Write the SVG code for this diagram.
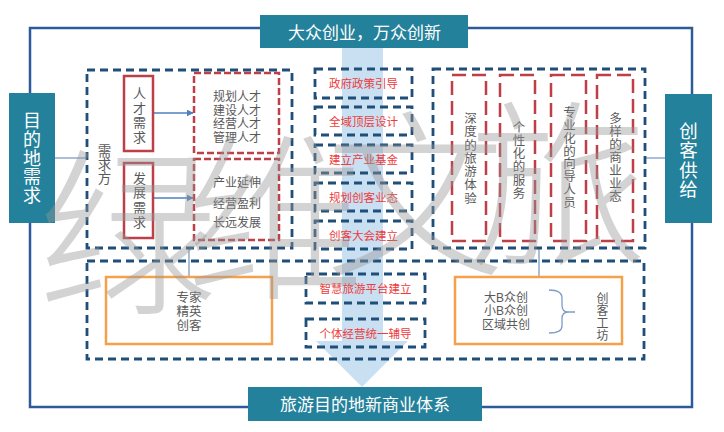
<svg xmlns="http://www.w3.org/2000/svg" width="724" height="432" viewBox="0 0 724 432">
<defs>
<style>
.frame{fill:none;stroke:#2d5b99;stroke-width:2.5}
.teal{fill:#23819b}
.tw{fill:#fff;font-family:"Noto Sans CJK SC",sans-serif;text-anchor:middle}
.navy{fill:none;stroke:#1f4e79;stroke-width:2.8;stroke-dasharray:8 5}
.reds{fill:none;stroke:#bd3f48;stroke-width:2.5}
.redd{fill:none;stroke:#bd3f48;stroke-width:2.5;stroke-dasharray:7 3}
.redc{fill:none;stroke:#bd3f48;stroke-width:2.5;stroke-dasharray:14 6}
.orange{fill:#fff;stroke:#f5a04a;stroke-width:2.5}
.conn{fill:none;stroke:#7f9cc4;stroke-width:1.3}
.arr{fill:none;stroke:#4f81bd;stroke-width:1.3}
.g{fill:#595959;font-family:"Liberation Sans","Noto Sans CJK SC",sans-serif;text-anchor:middle}
.v{writing-mode:vertical-rl;text-anchor:middle}
.r{fill:#ee3b3b;font-family:"Noto Sans CJK SC",sans-serif;text-anchor:middle;font-size:11.5px}
.wm{fill:#999;opacity:0.42;font-family:"Noto Sans CJK SC",sans-serif;font-size:180px;font-weight:300}
</style>
<marker id="ah" viewBox="0 0 10 10" refX="9" refY="5" markerWidth="7" markerHeight="7" orient="auto" markerUnits="userSpaceOnUse">
<path d="M0,0 L10,5 L0,10 z" fill="#4f81bd"/>
</marker>
</defs>
<rect width="724" height="432" fill="#fff"/>
<polygon id="flow-arrow" points="342,48 383,48 383,341 408,341 362,387 316,341 342,341" fill="#c9dff2"/>

<g id="connectors">
<rect class="frame" x="30" y="28" width="662" height="379"/>
<line class="conn" x1="55" y1="158" x2="87" y2="158"/>
<line class="conn" x1="645" y1="158" x2="665" y2="158"/>
<line class="conn" x1="189" y1="248" x2="189" y2="277"/>
<line class="conn" x1="539" y1="248" x2="539" y2="277"/>
<line class="arr" x1="153" y1="113" x2="193" y2="113" marker-end="url(#ah)"/>
<line class="arr" x1="153" y1="198" x2="193" y2="198" marker-end="url(#ah)"/>
</g>

<g id="title-top">
<rect class="teal" x="260" y="15" width="208" height="33"/>
<text class="tw" x="364.5" y="38.5" font-size="17">大众创业，万众创新</text>
</g>
<g id="title-bottom">
<rect class="teal" x="248" y="387" width="234" height="34"/>
<text class="tw" x="365" y="410.5" font-size="17">旅游目的地新商业体系</text>
</g>
<g id="demand">
<rect class="teal" x="9" y="93" width="46" height="130"/>
<text class="tw v" x="32" y="158" font-size="18" letter-spacing="0.6">目的地需求</text>
</g>
<g id="supply">
<rect class="teal" x="665" y="94" width="47" height="129"/>
<text class="tw v" x="688.5" y="160.5" font-size="18.5" letter-spacing="1">创客供给</text>
</g>

<g id="demand-side">
<rect class="navy" x="87" y="70" width="205" height="178"/>
<text class="g v" x="103" y="164" font-size="13.5">需求方</text>
</g>
<g id="talent-need">
<rect class="reds" x="124" y="76" width="29" height="75"/>
<text class="g v" x="138.5" y="116" font-size="13" letter-spacing="1.5">人才需求</text>
</g>
<g id="dev-need">
<rect class="reds" x="124" y="163" width="29" height="75"/>
<text class="g v" x="138.5" y="200.5" font-size="13" letter-spacing="1.7">发展需求</text>
</g>
<g id="talents">
<rect class="redd" x="194" y="73" width="85" height="80"/>
<text class="g" font-size="12"><tspan x="237" y="101">规划人才</tspan><tspan x="237" y="114.6">建设人才</tspan><tspan x="237" y="128">经营人才</tspan><tspan x="237" y="141.6">管理人才</tspan></text>
</g>
<g id="development">
<rect class="redd" x="194" y="159" width="85" height="81"/>
<text class="g" font-size="12"><tspan x="237" y="186.6">产业延伸</tspan><tspan x="237" y="207.6">经营盈利</tspan><tspan x="237" y="226.6">长远发展</tspan></text>
</g>

<g id="policy-1"><rect class="navy" x="315" y="69" width="97" height="29"/><text class="r" x="363.5" y="88">政府政策引导</text></g>
<g id="policy-2"><rect class="navy" x="315" y="107" width="97" height="28"/><text class="r" x="363.5" y="125.5">全域顶层设计</text></g>
<g id="policy-3"><rect class="navy" x="315" y="145" width="97" height="28"/><text class="r" x="363.5" y="163.5">建立产业基金</text></g>
<g id="policy-4"><rect class="navy" x="315" y="183" width="97" height="28"/><text class="r" x="363.5" y="201.5">规划创客业态</text></g>
<g id="policy-5"><rect class="navy" x="315" y="221" width="97" height="28"/><text class="r" x="363.5" y="239.5">创客大会建立</text></g>

<g id="supply-side">
<rect class="navy" x="433" y="69" width="212" height="179"/>
</g>
<g id="col-1"><rect class="redc" x="452" y="75" width="34" height="166"/>
<text class="g v" x="469" y="158.5" font-size="12.5" letter-spacing="0.8">深度的旅游体验</text></g>
<g id="col-2"><rect class="redc" x="500" y="75" width="35" height="166"/>
<text class="g v" x="517.5" y="160.5" font-size="12.5" letter-spacing="0.7">个性化的服务</text></g>
<g id="col-3"><rect class="redc" x="551" y="75" width="35" height="166"/>
<text class="g v" x="568" y="157.5" font-size="12.5" letter-spacing="0.4">专业化的向导人员</text></g>
<g id="col-4"><rect class="redc" x="597" y="75" width="36" height="166"/>
<text class="g v" x="614" y="157.5" font-size="12.5" letter-spacing="0.6">多样的商业业态</text></g>

<g id="platform">
<rect class="navy" x="87" y="261" width="557" height="98"/>
</g>
<g id="experts">
<rect class="orange" x="106" y="277" width="166" height="67"/>
<text class="g" font-size="12.5"><tspan x="189" y="301.7">专家</tspan><tspan x="189" y="315.7">精英</tspan><tspan x="189" y="329.7">创客</tspan></text>
</g>
<g id="smart-1"><rect class="navy" x="306" y="274" width="119" height="29"/><text class="r" x="365.5" y="293">智慧旅游平台建立</text></g>
<g id="smart-2"><rect class="navy" x="306" y="319" width="119" height="28"/><text class="r" x="365.5" y="337.5">个体经营统一辅导</text></g>
<g id="workshop">
<rect class="orange" x="455" y="277" width="167" height="67"/>
<text class="g" font-size="12"><tspan x="506" y="301.5">大B众创</tspan><tspan x="506" y="315">小B众创</tspan><tspan x="506" y="328.5">区域共创</tspan></text>
<path class="conn" d="M549,290 Q562,290 562,298 L562,305 Q562,312 568,312 L575,312 M568,312 Q562,312 562,319 L562,326 Q562,333 549,333"/>
<text class="g v" x="601" y="317" font-size="12" letter-spacing="0.5">创客工坊</text>
</g>

<g id="watermark">
<text class="wm" x="38" y="300">绿</text>
<text class="wm" x="185" y="285">维</text>
<text class="wm" x="325" y="262">文</text>
<text class="wm" x="468" y="252">旅</text>
</g>
</svg>
